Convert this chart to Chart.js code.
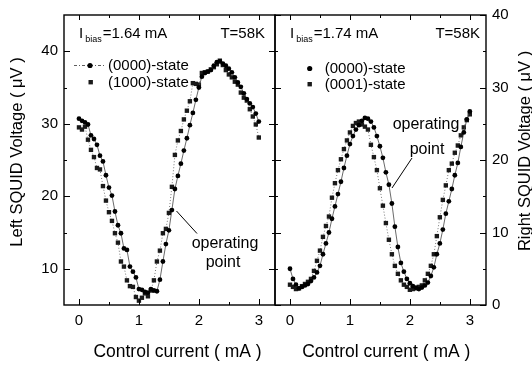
<!DOCTYPE html>
<html><head><meta charset="utf-8">
<script src="https://cdn.jsdelivr.net/npm/chart.js@4.4.1/dist/chart.umd.min.js"></script>
<style>
html,body{margin:0;padding:0;background:#fff;}
#wrap{position:relative;width:532px;height:367px;overflow:hidden;background:#fff;}
canvas{position:absolute;top:0;}
#cL{left:0;width:280px;height:367px;}
#cR{left:270px;width:262px;height:367px;}
</style></head><body>
<div id="wrap"><canvas id="cL" width="280" height="367"></canvas><canvas id="cR" width="262" height="367"></canvas></div>
<script>
// ---- data ----
const controlCurrent = [0,0.05,0.1,0.15,0.2,0.25,0.3,0.35,0.4,0.45,
  0.5,0.55,0.6,0.65,0.7,0.75,0.8,0.85,0.9,0.95,
  1.0,1.05,1.1,1.15,1.2,1.25,1.3,1.35,1.4,1.45,
  1.5,1.55,1.6,1.65,1.7,1.75,1.8,1.85,1.9,1.95,
  2.0,2.05,2.1,2.15,2.2,2.25,2.3,2.35,2.4,2.45,
  2.5,2.55,2.6,2.65,2.7,2.75,2.8,2.85,2.9,2.95,
  3.0];
const leftState0000 = [30.7,30.4,30.2,29.9,28.4,27.9,27.1,25.6,24.8,22.9,
  21.2,20.1,17.9,16.0,14.9,12.8,12.6,10.3,9.6,8.8,
  7.2,7.1,6.8,6.7,7.2,7.0,6.9,8.5,11.0,13.4,
  15.3,18.1,21.0,22.8,24.5,26.3,28.0,29.8,31.5,33.3,
  35.0,36.5,37.0,37.2,37.4,38.0,38.5,38.6,38.3,38.0,
  37.6,37.1,36.4,35.7,35.1,34.2,33.4,32.8,32.3,31.4,
  30.3];
const leftState1000 = [29.5,29.2,29.6,27.8,26.4,25.4,23.9,23.7,21.4,19.4,
  17.8,16.6,14.9,13.6,11.0,10.3,8.4,7.6,7.5,6.1,
  5.6,6.0,6.6,6.2,7.0,8.4,11.0,12.5,14.9,15.5,
  17.7,21.3,25.7,27.7,29.0,30.6,31.8,33.1,35.6,35.5,
  35.4,37.0,37.1,37.2,37.5,37.8,38.2,38.7,38.1,37.4,
  36.8,36.4,35.8,35.4,34.3,33.6,33.2,32.0,31.0,29.9,
  28.1];
const rightState0000 = [5.0,3.6,2.8,2.3,2.5,2.7,2.9,3.3,3.8,4.5,
  5.4,7.0,8.5,10.0,11.9,13.6,15.3,17.0,18.9,20.6,
  22.2,23.3,24.2,24.8,25.4,25.8,25.7,25.3,24.5,23.3,
  21.9,20.3,18.3,16.6,14.0,10.8,8.0,5.8,4.6,3.6,
  3.0,2.6,2.4,2.2,2.4,2.7,3.1,4.0,5.2,7.0,
  8.5,10.4,12.6,14.3,16.0,17.9,19.6,21.8,23.8,25.6,
  26.7];
const rightState0001 = [2.8,2.5,2.2,2.3,2.6,2.9,3.2,3.6,4.7,6.1,
  7.5,9.4,10.9,12.2,14.8,16.8,18.6,20.1,21.5,22.7,
  23.8,24.7,25.1,25.3,24.9,24.6,24.2,22.1,20.4,18.6,
  16.1,13.7,11.3,9.0,7.0,5.4,4.3,3.4,2.8,2.5,
  2.1,2.2,2.3,2.5,2.7,3.4,4.3,5.4,7.0,9.5,
  12.1,14.5,16.5,18.6,19.5,21.0,22.0,23.4,24.5,25.5,
  26.3];
const xTickLabels = [0,1,2,3];
const xMinorTicks = [0.5,1.5,2.5];
const leftYTicks = [10,20,30,40];
const leftYMinor = [15,25,35];
const rightYTicks = [0,10,20,30,40];
const rightYMinor = [5,15,25,35];

const FONT = "'Liberation Sans', Arial, Helvetica, sans-serif";
const pts = ys => ys.map((y,i)=>({x:controlCurrent[i], y}));

function circleSet(label, ys){
  return {label, data:pts(ys), showLine:true, borderColor:'#444', borderWidth:0.8,
    pointStyle:'circle', pointRadius:2.4, pointBackgroundColor:'#000', pointBorderWidth:0};
}
function squareSet(label, ys){
  return {label, data:pts(ys), showLine:true, borderColor:'#555', borderWidth:0.8, borderDash:[1,2],
    pointStyle:'rect', pointRadius:3.1, pointBackgroundColor:'#1a1a1a', pointBorderWidth:0};
}

function crisp(v){ return Math.round(v)+0.5; }

function framePlugin(yMajor, yMinor, deco){
  return {id:'frame', afterDraw(chart){
    const ctx=chart.ctx, a=chart.chartArea, sx=chart.scales.x, sy=chart.scales.y;
    ctx.save();
    ctx.strokeStyle='#000';
    ctx.lineWidth=1;
    ctx.beginPath();
    const L=a.left, R=a.right, T=a.top, B=a.bottom;
    xTickLabels.forEach(v=>{const p=crisp(sx.getPixelForValue(v));
      ctx.moveTo(p,B); ctx.lineTo(p,B-6); ctx.moveTo(p,T); ctx.lineTo(p,T+5);});
    xMinorTicks.forEach(v=>{const p=crisp(sx.getPixelForValue(v));
      ctx.moveTo(p,B); ctx.lineTo(p,B-3); ctx.moveTo(p,T); ctx.lineTo(p,T+3);});
    yMajor.forEach(v=>{const p=crisp(sy.getPixelForValue(v));
      ctx.moveTo(L,p); ctx.lineTo(L+6,p); ctx.moveTo(R,p); ctx.lineTo(R-6,p);});
    yMinor.forEach(v=>{const p=crisp(sy.getPixelForValue(v));
      ctx.moveTo(L,p); ctx.lineTo(L+3,p); ctx.moveTo(R,p); ctx.lineTo(R-3,p);});
    ctx.stroke();
    ctx.lineWidth=1.4;
    ctx.strokeRect(L, T, R-L, B-T);
    deco(ctx, chart);
    ctx.restore();
  }};
}

function drawIbias(ctx, x, val){
  ctx.fillStyle='#000';
  ctx.textBaseline='alphabetic';
  ctx.textAlign='left';
  ctx.font='15px '+FONT;
  ctx.fillText('I', x, 38);
  const w = ctx.measureText('I').width;
  ctx.font='9px '+FONT;
  ctx.fillText('bias', x+w+2, 41.5);
  const w2 = ctx.measureText('bias').width;
  ctx.font='15px '+FONT;
  ctx.fillText('='+val+' mA', x+w+2+w2+1, 38);
}

function makeChart(id, sets, yMin, yMax, yPos, padding, yWidth, yMajor, yMinor, deco){
  return new Chart(document.getElementById(id), {
    type:'scatter',
    data:{datasets:sets},
    options:{
      responsive:false, animation:false, devicePixelRatio:1,
      layout:{padding},
      plugins:{legend:{display:false}, tooltip:{enabled:false}},
      scales:{
        x:{type:'linear', min:-0.25, max:3.27,
          afterBuildTicks:s=>{s.ticks=xTickLabels.map(v=>({value:v}));},
          afterFit:s=>{s.height=62;},
          ticks:{color:'#000', font:{family:FONT,size:15}, padding:7, maxRotation:0},
          grid:{display:false, drawTicks:false}, border:{display:false}},
        y:{type:'linear', position:yPos, min:yMin, max:yMax,
          afterBuildTicks:s=>{s.ticks=yMajor.map(v=>({value:v}));},
          afterFit:s=>{s.width=yWidth;},
          ticks:{color:'#000', font:{family:FONT,size:15}, padding:6},
          grid:{display:false, drawTicks:false}, border:{display:false}}
      }
    },
    plugins:[framePlugin(yMajor, yMinor, deco)]
  });
}

makeChart('cL', [circleSet('(0000)-state', leftState0000), squareSet('(1000)-state', leftState1000)],
  5, 45, 'left', {top:12,right:5,left:0,bottom:0}, 64, leftYTicks, leftYMinor,
  (ctx)=>{
    drawIbias(ctx, 79, '1.64');
    ctx.font='15px '+FONT; ctx.textAlign='right'; ctx.fillText('T=58K', 265, 38);
    // legend
    ctx.strokeStyle='#333'; ctx.lineWidth=0.8; ctx.setLineDash([3,2,1,2]);
    ctx.beginPath(); ctx.moveTo(74,65.5); ctx.lineTo(106,65.5); ctx.stroke(); ctx.setLineDash([]);
    ctx.fillStyle='#000'; ctx.beginPath(); ctx.arc(90,65.5,2.6,0,Math.PI*2); ctx.fill();
    ctx.fillStyle='#1a1a1a'; ctx.fillRect(88.5,80,4.4,4.4);
    ctx.fillStyle='#000'; ctx.textAlign='left'; ctx.textBaseline='middle'; ctx.font='15px '+FONT;
    ctx.fillText('(0000)-state', 108, 65.5);
    ctx.fillText('(1000)-state', 108, 82.5);
    // operating point
    ctx.font='16px '+FONT; ctx.textAlign='center'; ctx.textBaseline='alphabetic';
    ctx.fillText('operating', 225, 248);
    ctx.fillText('point', 223, 266.5);
    ctx.strokeStyle='#000'; ctx.lineWidth=1;
    ctx.beginPath(); ctx.moveTo(176.5,211); ctx.lineTo(197,233.5); ctx.stroke();
    // axis titles
    ctx.font='17.5px '+FONT; ctx.textAlign='center'; ctx.textBaseline='middle';
    ctx.fillText('Control current ( mA )', 177.5, 352);
    ctx.save(); ctx.translate(17, 152); ctx.rotate(-Math.PI/2);
    ctx.font='16.5px '+FONT; ctx.fillText('Left SQUID Voltage ( \u03bcV )', 0, 0); ctx.restore();
  });

const OX = 270;
makeChart('cR', [circleSet('(0000)-state', rightState0000), squareSet('(0001)-state', rightState0001)],
  0, 40, 'right', {top:12,right:0,left:5,bottom:0}, 46, rightYTicks, rightYMinor,
  (ctx)=>{
    ctx.save(); ctx.translate(-OX, 0);
    drawIbias(ctx, 290, '1.74');
    ctx.font='15px '+FONT; ctx.textAlign='right'; ctx.fillText('T=58K', 480, 38);
    ctx.fillStyle='#000'; ctx.beginPath(); ctx.arc(309.7,68.5,2.6,0,Math.PI*2); ctx.fill();
    ctx.fillStyle='#1a1a1a'; ctx.fillRect(307.5,82,4.4,4.4);
    ctx.fillStyle='#000'; ctx.textAlign='left'; ctx.textBaseline='middle'; ctx.font='15px '+FONT;
    ctx.fillText('(0000)-state', 324.7, 68.5);
    ctx.fillText('(0001)-state', 324.7, 84.5);
    ctx.font='16px '+FONT; ctx.textAlign='center'; ctx.textBaseline='alphabetic';
    ctx.fillText('operating', 426, 128.5);
    ctx.fillText('point', 427, 153.5);
    ctx.strokeStyle='#000'; ctx.lineWidth=1;
    ctx.beginPath(); ctx.moveTo(412,158); ctx.lineTo(392,188); ctx.stroke();
    ctx.font='17.5px '+FONT; ctx.textAlign='center'; ctx.textBaseline='middle';
    ctx.fillText('Control current ( mA )', 386.3, 352);
    ctx.save(); ctx.translate(525, 151); ctx.rotate(-Math.PI/2);
    ctx.font='16.5px '+FONT; ctx.fillText('Right SQUID Voltage ( \u03bcV )', 0, 0); ctx.restore();
    ctx.restore();
  });
</script>
</body></html>
